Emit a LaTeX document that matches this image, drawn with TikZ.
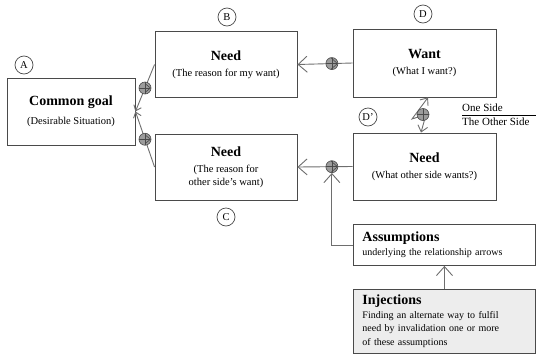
\documentclass[tikz,border=0pt]{standalone}
\usepackage{fontspec}
\setmainfont{Liberation Serif}
\usetikzlibrary{arrows.meta}
\definecolor{boxline}{HTML}{4A4A4A}
\definecolor{linkgray}{HTML}{6E6E6E}
\definecolor{injfill}{HTML}{EDEDED}
\definecolor{plusfill}{HTML}{9C9C9C}
\newcommand{\boxtitle}[1]{{\fontsize{14}{16}\selectfont\bfseries #1}}
\tikzstyle{box} = [draw=boxline, line width=0.9pt, rectangle, minimum width=142pt, minimum height=66pt, inner sep=2pt, align=center, font=\fontsize{10.5}{13}\selectfont]
\tikzstyle{note box} = [draw=boxline, line width=0.9pt, rectangle, anchor=north west, text width=164pt, inner xsep=9pt, inner ysep=0pt, align=left, font=\fontsize{10}{13.5}\selectfont]
\tikzstyle{tag} = [circle, draw=boxline, line width=0.7pt, minimum size=18pt, inner sep=0pt, font=\fontsize{10.5}{12}\selectfont]
\tikzstyle{plus} = [circle, draw=boxline, fill=plusfill, line width=0.6pt, minimum size=12pt, inner sep=0pt,
  path picture={\draw[boxline, line width=0.6pt] (path picture bounding box.north) -- (path picture bounding box.south)
    (path picture bounding box.west) -- (path picture bounding box.east);}]
\tikzstyle{link} = [draw=linkgray, line width=0.9pt]
\tikzstyle{pointed} = [link, -{Straight Barb[length=9pt,width=16pt]}]
\tikzstyle{pointed small} = [link, -{Straight Barb[length=5pt,width=8pt]}]

\begin{document}
\begin{tikzpicture}[x=1pt, y=-1pt]
    \useasboundingbox (0,0) rectangle (536,354);
    % the boxes
    \node[box, minimum width=128pt, minimum height=67pt] (A) at (71,111.5) {\boxtitle{Common goal}\\[6pt](Desirable Situation)};
    \node[box] (B) at (226,64.5) {\boxtitle{Need}\\[3pt](The reason for my want)};
    \node[box] (C) at (226,167) {\boxtitle{Need}\\[3pt](The reason for\\other side's want)};
    \node[box, minimum width=143pt, minimum height=68pt] (D) at (424.5,63) {\boxtitle{Want}\\[3pt](What I want?)};
    \node[box, minimum width=143pt, minimum height=67pt] (Dp) at (424.5,166.5) {\boxtitle{Need}\\[3pt](What other side wants?)};
    \node[note box, minimum height=41pt] (asm) at (353,224) {\boxtitle{Assumptions}\\underlying the relationship arrows};
    \node[note box, fill=injfill, minimum height=64pt] (inj) at (353,289) {\boxtitle{Injections}\\Finding an alternate way to fulfil\\need by invalidation one or more\\of these assumptions};

    % the letters
    \foreach \pos/\name/\txt in {{(24,65)/tA/A}, {(227,17)/tB/B}, {(226,217)/tC/C}, {(423,14)/tD/D}, {(368,117)/tDp/D’}}
        \node[tag] (\name) at \pos {\txt};

    % the two sides
    \node[anchor=south west, inner sep=0pt, font=\fontsize{11}{12}\selectfont] (oneside) at (462,112) {One Side};
    \node[anchor=north west, inner sep=0pt, font=\fontsize{11}{12}\selectfont] (otherside) at (462,118) {The Other Side};
    \draw[black, line width=1pt] (oneside.south west) ++(0,3) coordinate (sideL) -- (sideL -| 536,0);

    % the arrows
    \draw[pointed small] (B.west) -- node[plus] (pBA) {} (A.east);
    \draw[pointed small] (C.west) -- node[plus] (pCA) {} (A.east);
    \draw[pointed] (D.west) -- node[plus, pos=0.375] (pDB) {} (B.east);
    \draw[pointed] (Dp.west) -- node[plus, pos=0.375] (pDC) {} (C.east);
    \draw[pointed] (asm.west) -| (pDC);
    \draw[pointed] (inj.north) -- (asm.south);

    % the conflict
    \coordinate (bolt1) at (412,119);
    \coordinate (bolt2) at (426,114.5);
    \draw[link, {Straight Barb[length=6pt,width=10pt]}-{Straight Barb[length=6pt,width=10pt]}]
        ([xshift=3.5pt]D.south) -- (bolt1) -- (bolt2) -- ([xshift=-3.5pt]Dp.north);
    \node[plus] (pDD) at (423,114.5) {};
\end{tikzpicture}
\end{document}
